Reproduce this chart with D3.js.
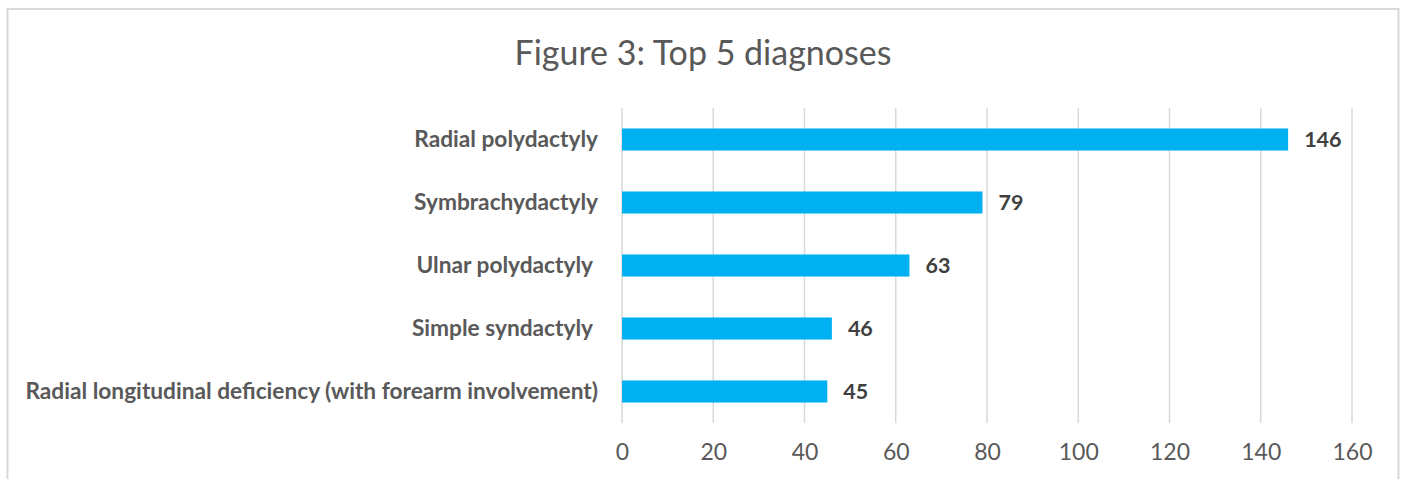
<!DOCTYPE html>
<html>
<head>
<meta charset="utf-8">
<script src="https://cdn.jsdelivr.net/npm/d3@7"></script>
<style>
  html, body { margin: 0; padding: 0; background: #fff; }
  svg { display: block; }
  text { white-space: pre; }
</style>
</head>
<body>
<script>
const title = "Figure 3: Top 5 diagnoses";
const categories = [
  "Radial polydactyly",
  "Symbrachydactyly",
  "Ulnar polydactyly ",
  "Simple syndactyly ",
  "Radial longitudinal deficiency (with forearm involvement)"
];
const values = [146, 79, 63, 46, 45];
const xTicks = [0, 20, 40, 60, 80, 100, 120, 140, 160];

const W = 1405, H = 479;
const svg = d3.select("body").append("svg").attr("width", W).attr("height", H);

// chart border
svg.append("rect")
  .attr("x", 7.5).attr("y", 9)
  .attr("width", 1391).attr("height", 500)
  .attr("fill", "#fff").attr("stroke", "#d9d9d9").attr("stroke-width", 2);

const x = d3.scaleLinear().domain([0, 160]).range([622, 1352]);
const y = d3.scaleBand().domain(categories).range([108, 423]).paddingInner(0.65).paddingOuter(0.325);

// gridlines
svg.append("g").selectAll("line").data(xTicks).join("line")
  .attr("x1", d => x(d)).attr("x2", d => x(d))
  .attr("y1", 108).attr("y2", 423)
  .attr("stroke", "#d9d9d9").attr("stroke-width", 1.5);

// x axis labels
const xAxis = d3.axisBottom(x).tickValues(xTicks).tickSize(0).tickPadding(0);
const gx = svg.append("g").attr("transform", "translate(0,444)").call(xAxis);
gx.select(".domain").remove();
gx.selectAll("text")
  .attr("font-family", "Lato, 'Open Sans', sans-serif")
  .attr("font-size", 23).attr("fill", "#595959");

// bars
svg.append("g").selectAll("rect").data(values).join("rect")
  .attr("x", x(0))
  .attr("y", (d, i) => y(categories[i]))
  .attr("width", d => x(d) - x(0))
  .attr("height", y.bandwidth())
  .attr("fill", "#00B0F0");

// category labels
const yAxis = d3.axisLeft(y).tickSize(0).tickPadding(24);
const gy = svg.append("g").attr("transform", `translate(${x(0)},0)`).call(yAxis);
gy.select(".domain").remove();
gy.selectAll("text")
  .attr("font-family", "Lato, 'Open Sans', sans-serif")
  .attr("font-weight", "bold")
  .attr("font-size", 22.7).attr("fill", "#595959")
  .attr("dy", "0.35em");

// value labels
svg.append("g").selectAll("text").data(values).join("text")
  .attr("x", d => x(d) + 16)
  .attr("y", (d, i) => y(categories[i]) + y.bandwidth() / 2)
  .attr("dy", "0.36em")
  .attr("font-family", "Lato, 'Open Sans', sans-serif")
  .attr("font-weight", "bold")
  .attr("font-size", 21.5).attr("fill", "#404040")
  .text(d => d);

// title
svg.append("text")
  .attr("x", 703).attr("y", 65)
  .attr("text-anchor", "middle")
  .attr("font-family", "Lato, 'Open Sans', sans-serif")
  .attr("font-size", 34).attr("fill", "#595959")
  .text(title);
</script>
</body>
</html>
